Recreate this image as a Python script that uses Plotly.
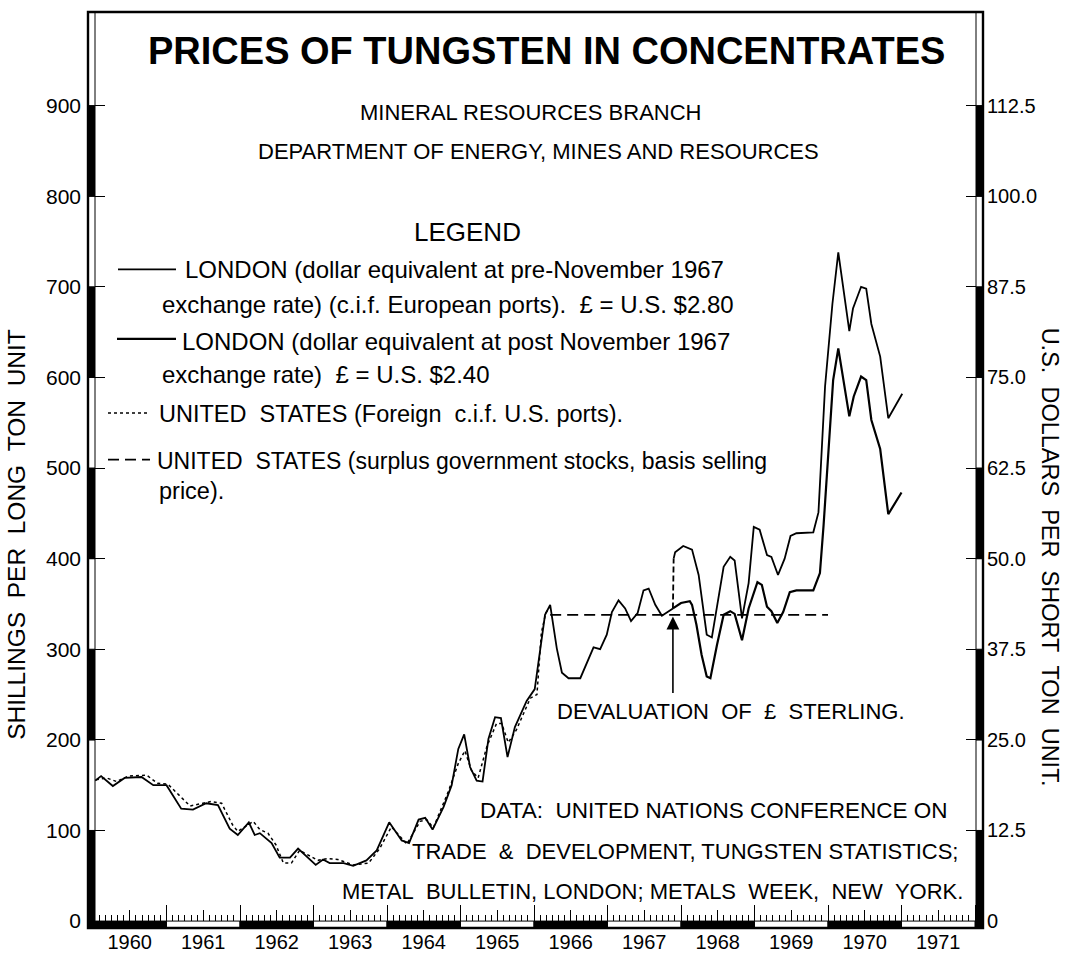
import plotly.graph_objects as go

# ---------------------------------------------------------------------------
# Data (shillings per long ton unit; time in decimal years)
# ---------------------------------------------------------------------------
# London, dollar equivalent at the pre-November 1967 rate, up to devaluation
london_pre_t = [1960.03, 1960.11, 1960.27, 1960.43, 1960.66, 1960.82,
                1961.00, 1961.20, 1961.36, 1961.54, 1961.70, 1961.86, 1961.97,
                1962.12, 1962.20, 1962.27, 1962.43, 1962.54, 1962.68, 1962.79,
                1963.03, 1963.13, 1963.22, 1963.41, 1963.54, 1963.72, 1963.86,
                1964.03, 1964.20, 1964.30, 1964.43, 1964.52, 1964.62, 1964.77, 1964.88, 1964.97,
                1965.05, 1965.13, 1965.22, 1965.30, 1965.38, 1965.47, 1965.55, 1965.64, 1965.74, 1965.90,
                1966.01, 1966.08, 1966.15, 1966.22, 1966.31, 1966.38, 1966.47, 1966.63, 1966.72,
                1966.81, 1966.90, 1966.99,
                1967.06, 1967.15, 1967.24, 1967.32, 1967.41, 1967.49, 1967.56, 1967.65, 1967.74,
                1967.81, 1967.89]
london_pre_v = [155, 160, 149, 158, 159, 150,
                150, 124, 123, 130, 128, 102, 95,
                109, 95, 97, 86, 70, 70, 80,
                62, 68, 64, 64, 61, 67, 78,
                109, 89, 86, 112, 114, 101, 126, 150, 190,
                206, 170, 155, 154, 201, 225, 224, 181, 214, 243,
                256, 298, 338, 349, 301, 274, 268, 268, 285,
                302, 300, 316,
                341, 354, 345, 331, 340, 365, 367, 349, 337,
                341, 345]

# London at the pre-November 1967 rate, after devaluation
london_pre_after_t = [1967.90, 1967.92, 1968.03, 1968.15, 1968.24, 1968.30, 1968.35, 1968.42,
                      1968.49, 1968.58, 1968.67, 1968.73, 1968.83, 1968.92, 1968.99,
                      1969.07, 1969.17, 1969.23, 1969.32, 1969.41, 1969.49, 1969.57,
                      1969.80, 1969.87, 1969.96, 1970.06, 1970.14, 1970.29, 1970.34,
                      1970.45, 1970.52, 1970.59, 1970.71, 1970.82, 1971.01]
london_pre_after_v = [400, 407, 414, 410, 382, 345, 316, 313,
                      349, 391, 402, 398, 334, 373, 435,
                      432, 404, 402, 382, 400, 425, 428,
                      429, 451, 590, 681, 738, 651, 676,
                      700, 698, 659, 623, 555, 582]

# London, dollar equivalent at the post-November 1967 rate
london_post_t = [1967.89, 1968.00, 1968.12, 1968.15, 1968.21, 1968.28, 1968.35, 1968.40,
                 1968.49, 1968.58, 1968.67, 1968.73, 1968.83, 1968.92, 1969.04,
                 1969.10, 1969.17, 1969.23, 1969.31, 1969.39, 1969.48, 1969.57,
                 1969.80, 1969.89, 1969.94, 1970.07, 1970.14, 1970.29, 1970.35,
                 1970.45, 1970.52, 1970.59, 1970.71, 1970.82, 1971.00]
london_post_v = [345, 351, 353, 349, 327, 294, 270, 268,
                 305, 338, 342, 339, 310, 345, 374,
                 371, 347, 342, 329, 341, 363, 365,
                 365, 384, 437, 597, 632, 557, 579,
                 601, 597, 553, 521, 449, 473]

# United States, foreign c.i.f. U.S. ports
us_foreign_t = [1960.04, 1960.18, 1960.32, 1960.48, 1960.73, 1960.88,
                1961.02, 1961.32, 1961.61, 1961.75, 1961.90, 1961.97,
                1962.18, 1962.27, 1962.38, 1962.49, 1962.59, 1962.70, 1962.81,
                1963.06, 1963.20, 1963.33, 1963.54, 1963.75, 1963.90,
                1964.06, 1964.27, 1964.45, 1964.54, 1964.63, 1964.83, 1964.97,
                1965.06, 1965.15, 1965.24, 1965.36, 1965.49, 1965.56, 1965.65, 1965.76, 1965.95,
                1966.04, 1966.10, 1966.16, 1966.22]
us_foreign_v = [156, 158, 154, 160, 161, 152,
                151, 127, 132, 130, 106, 99,
                110, 101, 97, 84, 64, 64, 78,
                67, 69, 68, 62, 64, 80,
                104, 85, 110, 112, 103, 142, 174,
                188, 166, 158, 193, 218, 218, 197, 211, 246,
                250, 318, 340, 347]

# United States, surplus government stocks (basis selling price)
us_surplus_t = [1966.22, 1970.00]
us_surplus_v = [338, 338]

devaluation_t = 1967.89

# Axis ticks
year_labels = [str(y) for y in range(1960, 1972)]
year_bounds = list(range(1960, 1973))
year_mid = [y + 0.5 for y in range(1960, 1972)]
month_ticks = [1960 + m / 12 for m in range(0, 12 * 12 + 1)]
shilling_ticks = [0, 100, 200, 300, 400, 500, 600, 700, 800, 900]
dollar_ticks = [0, 12.5, 25.0, 37.5, 50.0, 62.5, 75.0, 87.5, 100.0, 112.5]
dollar_labels = ["0", "12.5", "25.0", "37.5", "50.0", "62.5", "75.0", "87.5", "100.0", "112.5"]

# ---------------------------------------------------------------------------
# Page geometry
# ---------------------------------------------------------------------------
W, H = 1067, 965
L, R, T, B = 88, 983, 12, 937          # plot box in page pixels
ZERO_PX, PX_PER_UNIT = 930, 0.915       # y = 0 line, pixels per shilling
JAN1960_PX, PX_PER_YEAR = 93, 73.5      # start of 1960, pixels per year
BAR = 7                                 # width of the banded axis bars

y_range = [-(B - ZERO_PX) / PX_PER_UNIT, (ZERO_PX - T) / PX_PER_UNIT]
x_range = [1960 + (L - JAN1960_PX) / PX_PER_YEAR, 1960 + (R - JAN1960_PX) / PX_PER_YEAR]


def fx(px):
    return (px - L) / (R - L)


def fy(py):
    return (B - py) / (B - T)


FONT = "Liberation Sans, Arial, sans-serif"
INK = "black"

LINE_PRE = dict(color=INK, width=1.8)
LINE_POST = dict(color=INK, width=2.2)
LINE_JUMP = dict(color=INK, width=1.8, dash="6px,3px")
LINE_US_FOREIGN = dict(color=INK, width=1.5, dash="3px,3px")
LINE_US_SURPLUS = dict(color=INK, width=1.7, dash="11px,6px")

fig = go.Figure()

fig.add_trace(go.Scatter(x=london_pre_t, y=london_pre_v, mode="lines", line=LINE_PRE,
                         name="London (pre-November 1967 rate)"))
fig.add_trace(go.Scatter(x=[london_pre_t[-1], london_pre_after_t[0]],
                         y=[london_pre_v[-1], london_pre_after_v[0]],
                         mode="lines", line=LINE_JUMP, showlegend=False))
fig.add_trace(go.Scatter(x=london_pre_after_t, y=london_pre_after_v, mode="lines", line=LINE_PRE,
                         showlegend=False))
fig.add_trace(go.Scatter(x=london_post_t, y=london_post_v, mode="lines", line=LINE_POST,
                         name="London (post November 1967 rate)"))
fig.add_trace(go.Scatter(x=us_foreign_t, y=us_foreign_v, mode="lines", line=LINE_US_FOREIGN,
                         xaxis="x2", name="United States (foreign)"))
fig.add_trace(go.Scatter(x=us_surplus_t, y=us_surplus_v, mode="lines", line=LINE_US_SURPLUS,
                         xaxis="x3", name="United States (surplus stocks)"))
# keeps the dollar scale attached to the plot
fig.add_trace(go.Scatter(x=[], y=[], yaxis="y2", mode="lines", showlegend=False, hoverinfo="skip"))

# ---------------------------------------------------------------------------
# Banded axis bars
# ---------------------------------------------------------------------------
shapes = []
bands = [(y_range[0], 0, INK)]
for k in range(10):
    top = (k + 1) * 100 if k < 9 else y_range[1]
    bands.append((k * 100, top, INK if k % 2 == 0 else "white"))
for x0p, x1p in [(0, fx(L + BAR)), (fx(R - BAR), 1)]:
    for lo, hi, col in bands:
        shapes.append(dict(type="rect", xref="paper", yref="y", x0=x0p, x1=x1p, y0=lo, y1=hi,
                           fillcolor=col, line=dict(color=INK, width=1), layer="above"))
shapes.append(dict(type="rect", xref="x", yref="y", x0=x_range[0], x1=1960, y0=y_range[0], y1=0,
                   fillcolor=INK, line=dict(color=INK, width=1), layer="above"))
for i, yr in enumerate(range(1960, 1972)):
    shapes.append(dict(type="rect", xref="x", yref="y", x0=yr, x1=yr + 1, y0=y_range[0], y1=0,
                       fillcolor=INK if i % 2 == 0 else "white",
                       line=dict(color=INK, width=1), layer="above"))
# outer frame
shapes.append(dict(type="rect", xref="paper", yref="paper", x0=0, x1=1, y0=0, y1=1,
                   line=dict(color=INK, width=2.4), layer="above"))

# legend samples
for (x0, x1, yy, st) in [(118, 176, 272, LINE_PRE), (117, 176, 342, LINE_POST),
                         (108, 150, 417, LINE_US_FOREIGN), (108, 150, 464, LINE_US_SURPLUS)]:
    shapes.append(dict(type="line", xref="paper", yref="paper", x0=fx(x0), x1=fx(x1),
                       y0=fy(yy), y1=fy(yy), line=st, layer="above"))

# ---------------------------------------------------------------------------
# Text
# ---------------------------------------------------------------------------
annotations = []


def text(s, x, y, size, xanchor="center", angle=0):
    annotations.append(dict(text=s, x=fx(x), y=fy(y), xref="paper", yref="paper",
                            xanchor=xanchor, yanchor="middle", showarrow=False, textangle=angle,
                            font=dict(family=FONT, size=size, color=INK)))


NB = "\u00a0"
text("<b>PRICES OF TUNGSTEN IN CONCENTRATES</b>", 546, 51, 38)
text("MINERAL RESOURCES BRANCH", 530, 113, 22)
text("DEPARTMENT OF ENERGY, MINES AND RESOURCES", 538, 153, 22)
text("LEGEND", 467, 234, 26)
text("LONDON (dollar equivalent at pre-November 1967", 183, 272, 24, "left")
text("exchange rate) (c.i.f. European ports)." + NB * 2 + "£ = U.S. $2.80", 160, 307, 24, "left")
text("LONDON (dollar equivalent at post November 1967", 180, 345, 24, "left")
text("exchange rate)" + NB * 2 + "£ = U.S. $2.40", 160, 378, 24, "left")
text("UNITED" + NB * 2 + "STATES (Foreign" + NB * 2 + "c.i.f. U.S. ports).", 157, 418, 23.5, "left")
text("UNITED" + NB * 2 + "STATES (surplus government stocks, basis selling", 155, 465, 23, "left")
text("price).", 157, 496, 23.5, "left")
text("DEVALUATION" + NB * 2 + "OF" + NB * 2 + "£" + NB * 2 + "STERLING.", 731, 718, 22)
text("DATA:" + NB * 2 + "UNITED NATIONS CONFERENCE ON", 950, 818, 22.5, "right")
text("TRADE" + NB * 2 + "&" + NB * 2 + "DEVELOPMENT, TUNGSTEN STATISTICS;", 960, 860, 22, "right")
text("METAL" + NB * 2 + "BULLETIN, LONDON;" + NB + "METALS" + NB * 2 + "WEEK," + NB * 2 + "NEW" + NB * 2 + "YORK.",
     965, 900, 22, "right")
text(NB.join(["SHILLINGS", "", "PER", "", "LONG", "", "TON", "", "UNIT"]), 17, 540, 24.5, angle=-90)
text(NB.join(["U.S.", "", "DOLLARS", "", "PER", "", "SHORT", "", "TON", "", "UNIT."]), 1050, 562, 23.5,
     angle=90)

# devaluation arrow
annotations.append(dict(x=devaluation_t, y=336, ax=devaluation_t, ay=250, xref="x", yref="y",
                        axref="x", ayref="y", text="", showarrow=True, arrowhead=2, arrowsize=1.6,
                        arrowwidth=1.6, arrowcolor=INK))

tick_font = dict(family=FONT, size=21, color=INK)
common_x = dict(range=x_range, showgrid=False, zeroline=False, showline=False, fixedrange=True)

fig.update_layout(
    width=W, height=H,
    margin=dict(l=L, r=W - R, t=T, b=H - B, pad=0),
    paper_bgcolor="white", plot_bgcolor="white",
    showlegend=False,
    xaxis=dict(**common_x, tickmode="array", tickvals=month_ticks, showticklabels=False,
               ticks="inside", ticklen=BAR + 6, tickwidth=1, tickcolor=INK),
    xaxis2=dict(**common_x, overlaying="x", anchor="y", side="bottom", tickmode="array",
                tickvals=year_mid, ticktext=year_labels, ticks="inside", ticklen=BAR + 11,
                tickwidth=1.2, tickcolor=INK, tickfont=dict(family=FONT, size=20, color=INK)),
    xaxis3=dict(**common_x, overlaying="x", anchor="y", side="bottom", tickmode="array",
                tickvals=year_bounds, showticklabels=False, ticks="inside", ticklen=BAR + 16,
                tickwidth=1.4, tickcolor=INK),
    yaxis=dict(range=y_range, tickmode="array", tickvals=shilling_ticks, ticks="inside",
               ticklen=BAR + 10, tickwidth=1.4, tickcolor=INK, showgrid=False, zeroline=False,
               showline=False, tickfont=tick_font, ticklabelstandoff=6, fixedrange=True),
    yaxis2=dict(range=[v / 8 for v in y_range], overlaying="y", side="right", anchor="x",
                tickmode="array", tickvals=dollar_ticks, ticktext=dollar_labels, ticks="inside",
                ticklen=BAR + 10, tickwidth=1.4, tickcolor=INK, showgrid=False, zeroline=False,
                showline=False, tickfont=dict(family=FONT, size=20, color=INK),
                ticklabelstandoff=3, fixedrange=True),
    shapes=shapes,
    annotations=annotations,
)

fig.write_html("out.html")
